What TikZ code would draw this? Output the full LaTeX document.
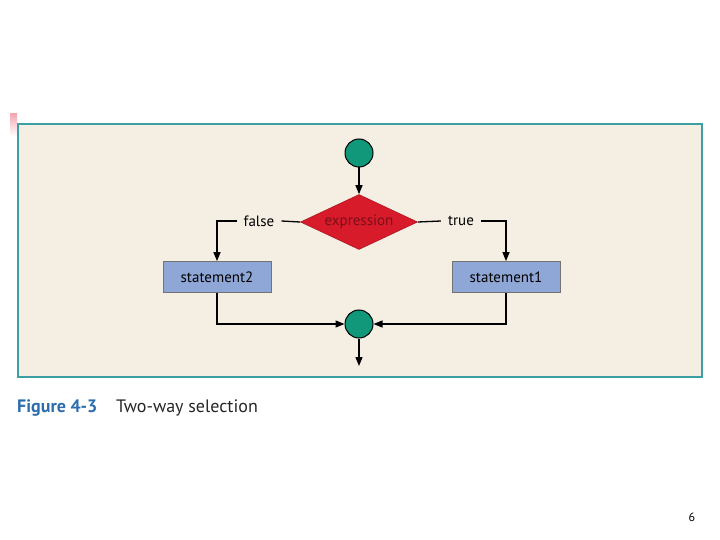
\documentclass[tikz,border=0pt]{standalone}
\usepackage{fontspec}
\setmainfont{PT Sans}
\usepackage{xcolor}
\usetikzlibrary{arrows.meta, positioning, shapes.geometric, calc}
\definecolor{cpanel}{HTML}{F4EEE3}
\definecolor{cframe}{HTML}{3C9FA3}
\definecolor{cred}{HTML}{D81B2B}
\definecolor{cdred}{HTML}{7A0F18}
\definecolor{cgreen}{HTML}{11987A}
\definecolor{cblue}{HTML}{8FA7D6}
\definecolor{ccap}{HTML}{2C6DAE}
\definecolor{cpink}{HTML}{F4A9B2}

\begin{document}
\begin{tikzpicture}[
  x=1pt, y=-1pt,
  font=\fontsize{15}{17}\selectfont,
  >={Triangle[length=9pt,width=7pt]},
  joint/.style={circle, draw=black, fill=cgreen, line width=1pt,
                minimum size=28pt, inner sep=0pt},
  cond/.style={diamond, aspect=2.1, draw=cred!80!black, fill=cred,
               line width=0.6pt, minimum width=117pt, minimum height=55pt,
               inner sep=0pt, text=cdred},
  stmt/.style={draw=black!55, fill=cblue, line width=0.8pt,
               minimum width=108pt, minimum height=31pt},
  lbl/.style={inner sep=7pt},
  arr/.style={->, line width=1.3pt},
  ln/.style={line width=1.3pt},
]
\useasboundingbox (0,0) rectangle (720,540);
% panel
\shade[top color=cpink, bottom color=white] (10,114) rectangle (17,136);
\draw[cframe, fill=cpanel, line width=1.8pt] (18,124) rectangle (702,377);

% flowchart
\node[joint] (start) at (359,153) {};
\node[cond]  (expr)  at (359,222) {expression};
\node[stmt]  (st2)   at (217,277) {statement2};
\node[stmt]  (st1)   at (506,277) {statement1};
\node[joint] (join)  at (359,324) {};
\node[lbl]   (no)    at (259,221) {false};
\node[lbl]   (yes)   at (461,221) {true};
\coordinate (out) at (359,366);

\draw[arr] (start)--(expr);
\draw[ln] (expr.west)--(no.east);
\draw[arr] (no.west) -| (st2.north);
\draw[ln] (expr.east)--(yes.west);
\draw[arr] (yes.east) -| (st1.north);
\draw[arr] (st2.south) |- (join.west);
\draw[arr] (st1.south) |- (join.east);
\draw[arr] (join)--(out);

% caption and page number
\node[anchor=base west, inner sep=0pt, text=ccap,
      font=\fontsize{18}{21}\selectfont\bfseries] (fig) at (17,412) {Figure 4-3};
\node[anchor=base west, inner sep=0pt, text=black!85,
      font=\fontsize{18}{21}\selectfont] (title) at (116,412) {Two-way selection};
\node[font=\fontsize{12}{14}\selectfont] (page) at (692,517) {6};
\end{tikzpicture}
\end{document}
